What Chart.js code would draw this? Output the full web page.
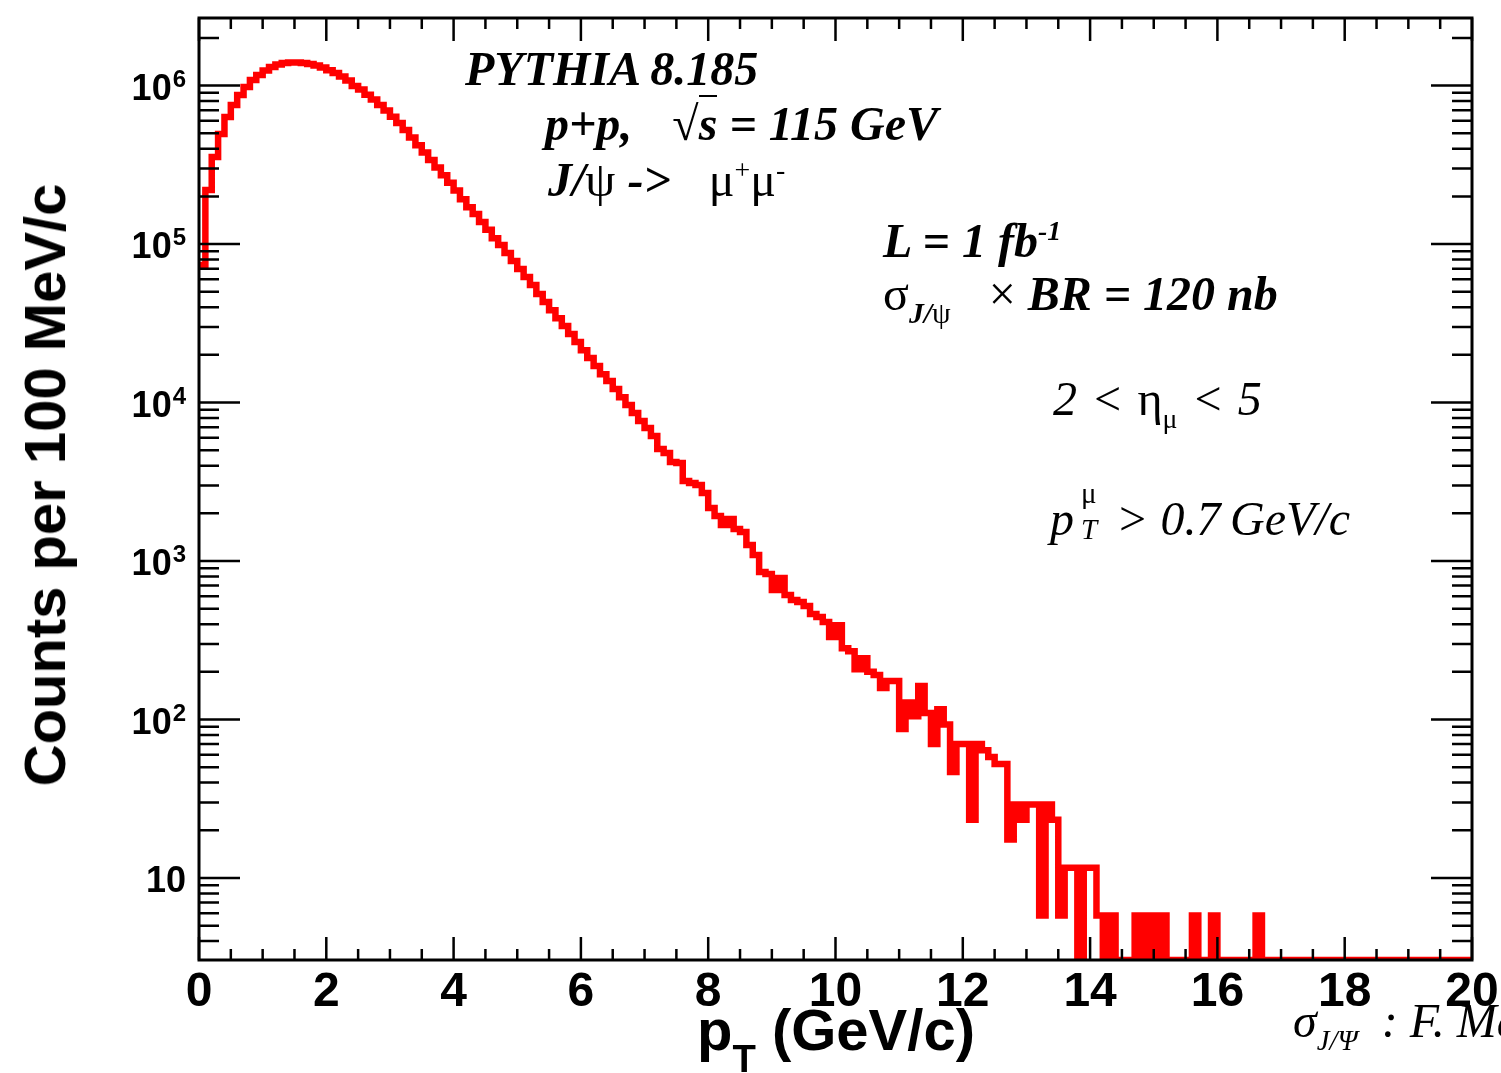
<!DOCTYPE html>
<html lang="en">
<head>
  <meta charset="UTF-8">
  <title>J/psi pT spectrum</title>
  <script src="https://cdn.jsdelivr.net/npm/chart.js@4.4.1/dist/chart.umd.min.js"></script>
  <style>
    body { margin: 0; background: #fff; }
    #wrap { position: relative; width: 1501px; height: 1073px; overflow: hidden; background: #fff; }
    canvas { position: absolute; left: 0; top: 0; }
    .t {
      position: absolute;
      line-height: 1;
      white-space: nowrap;
      font-family: "Liberation Serif", "Times New Roman", serif;
      font-size: 48px;
      color: #000;
    }
    .bi { font-weight: bold; font-style: italic; }
    .it { font-style: italic; }
    .g { font-weight: normal; font-style: normal; }
    sup, sub { font-size: 0.58em; line-height: 0; position: relative; vertical-align: baseline; }
    sup { top: -0.6em; }
    sub { top: 0.45em; }
    .sans { font-family: "Liberation Sans", Arial, Helvetica, sans-serif; font-weight: bold; }
    .stack { display: inline-block; position: relative; width: 30px; height: 1em; vertical-align: baseline; }
    .stack span { position: absolute; left: 7px; font-size: 29px; line-height: 1; }
  </style>
</head>
<body>
  <div id="wrap">
    <canvas id="ptChart" width="1501" height="1073"></canvas>

    <div class="t bi" style="left:465px;top:45px">PYTHIA 8.185</div>
    <div class="t bi" style="left:545px;top:100px">p+p,<span class="g" style="margin-left:40px">√</span><span style="border-top:2px solid #000">s</span> = 115 GeV</div>
    <div class="t bi" style="left:548px;top:156px">J/<span class="g">ψ</span> -&gt;<span class="g" style="margin-left:38px">μ<sup>+</sup>μ<sup>-</sup></span></div>

    <div class="t bi" style="left:883px;top:217px">L = 1 fb<sup>-1</sup></div>
    <div class="t bi" style="left:883px;top:270px"><span class="g">σ</span><sub style="font-size:0.62em">J/<span class="g">ψ</span></sub><span class="g" style="margin-left:38px">×</span> BR = 120 nb</div>

    <div class="t it" style="left:1053px;top:375px;word-spacing:2px">2 &lt; <span class="g">η</span><sub class="g">μ</sub> &lt; 5</div>
    <div class="t it" style="left:1050px;top:487px">p<span class="stack"><span class="g" style="top:-8px">μ</span><span style="top:28px">T</span></span> &gt; 0.7&#8201;GeV/c</div>

    <div class="t it" style="left:1293px;top:997px;font-size:48px">σ<sub style="font-size:0.6em;margin-right:12px">J/Ψ</sub> : F. Maltoni</div>

    <div class="t sans" style="left:697px;top:1001px;font-size:58px">p<sub style="font-size:0.66em;top:0.58em">T</sub> (GeV/c)</div>
    <div class="t sans" style="left:45px;top:485px;font-size:58px;transform:translate(-50%,-50%) rotate(-90deg)">Counts per 100 MeV/c</div>
  </div>

  <script>
    // histogram: 200 bins of 100 MeV from 0 to 20 GeV/c
    const binWidth = 0.1;
    const counts = [
      73700, 219100, 353900, 494300, 632900, 753400, 871300, 978400, 1083000, 1165000,
      1243000, 1308000, 1357000, 1387000, 1397000, 1397000, 1387000, 1367000, 1337000, 1299000,
      1252000, 1199000, 1140000, 1075000, 993000, 944000, 877000, 816000, 753000, 696000,
      637000, 580000, 524000, 470000, 421000, 378000, 339000, 304000, 272000, 244000,
      218000, 192000, 171000, 155000, 138000, 123000, 109000, 98600, 87800, 78100,
      69600, 61900, 55100, 48400, 43100, 38300, 34100, 30400, 27100, 24100,
      21400, 19100, 17000, 15100, 13700, 12200, 10800, 9640, 8586, 7644,
      6902, 6150, 5090, 4800, 4217, 4150, 3199, 3105, 3015, 2685,
      2158, 1923, 1687, 1841, 1592, 1524, 1262, 1091, 853, 828,
      656, 782, 610, 567, 551, 520, 463, 444, 412, 332,
      394, 282, 270, 208, 244, 200, 191, 158, 175, 175,
      87.3, 128, 105, 163, 110, 70, 116, 93, 46.6, 70,
      70, 23.3, 70, 64, 58, 52.4, 52.4, 17.5, 29.1, 23.3,
      29.1, 29.1, 5.8, 29.1, 23.3, 5.8, 11.6, 11.6, 0, 11.6,
      11.6, 5.8, 0, 5.8, 0, 0, 0, 5.8, 0, 5.8,
      0, 5.8, 0, 0, 0, 0, 5.8, 0, 0, 5.8,
      0, 0, 0, 0, 0, 0, 5.8, 0, 0, 0,
      0, 0, 0, 0, 0, 0, 0, 0, 0, 0,
      0, 0, 0, 0, 0, 0, 0, 0, 0, 0,
      0, 0, 0, 0, 0, 0, 0, 0, 0, 0
    ];
    const xTickValues = [0, 2, 4, 6, 8, 10, 12, 14, 16, 18, 20];
    const xTickLabels = ['0', '2', '4', '6', '8', '10', '12', '14', '16', '18', '20'];
    const yDecades = [1, 2, 3, 4, 5, 6];   // labels 10, 10^2 ... 10^6

    const xMin = 0, xMax = 20;
    const yMin = 3.04, yMax = 2.67e6;

    // left bin edges, plus closing point at the upper edge;
    // empty bins sit on the axis floor like in ROOT (log scale drops zeros)
    const floorVal = c => (c > 0 ? c : yMin);
    const histPoints = counts.map((c, i) => ({ x: i * binWidth, y: floorVal(c) }));
    histPoints.push({ x: xMax, y: floorVal(counts[counts.length - 1]) });

    const rootFrame = {
      id: 'rootFrame',
      afterDatasetsDraw(chart) {
        const { ctx, chartArea: a, scales: { x, y } } = chart;
        ctx.save();
        ctx.strokeStyle = '#000';
        ctx.lineWidth = 2.5;
        ctx.beginPath();
        // x ticks every 0.5, major every 2 (bottom and top, pointing inwards)
        for (let v = xMin; v <= xMax + 1e-9; v += 0.5) {
          const px = x.getPixelForValue(v);
          const len = xTickValues.includes(v) ? 23 : 11;
          ctx.moveTo(px, a.bottom); ctx.lineTo(px, a.bottom - len);
          ctx.moveTo(px, a.top); ctx.lineTo(px, a.top + len);
        }
        // y ticks: decades long, 2..9 short (left and right)
        for (let d = 0; d <= 6; d++) {
          for (let m = 1; m <= 9; m++) {
            const v = m * Math.pow(10, d);
            if (v < yMin || v > yMax) continue;
            const py = y.getPixelForValue(v);
            const len = m === 1 ? 41 : 20;
            ctx.moveTo(a.left, py); ctx.lineTo(a.left + len, py);
            ctx.moveTo(a.right, py); ctx.lineTo(a.right - len, py);
          }
        }
        ctx.stroke();
        ctx.lineWidth = 3;
        ctx.strokeRect(a.left, a.top, a.right - a.left, a.bottom - a.top);

        // x tick labels
        ctx.fillStyle = '#000';
        ctx.font = 'bold 48px "Liberation Sans", Arial, sans-serif';
        ctx.textAlign = 'center';
        ctx.textBaseline = 'alphabetic';
        xTickValues.forEach((v, i) => {
          ctx.fillText(xTickLabels[i], x.getPixelForValue(v), 1006);
        });

        // y tick labels with superscript exponent
        ctx.textAlign = 'right';
        const right = 186;
        yDecades.forEach(d => {
          const py = y.getPixelForValue(Math.pow(10, d));
          if (d === 1) {
            ctx.font = 'bold 36px "Liberation Sans", Arial, sans-serif';
            ctx.fillText('10', right, py + 14);
          } else {
            ctx.font = 'bold 24px "Liberation Sans", Arial, sans-serif';
            const exp = String(d);
            const w = ctx.measureText(exp).width;
            ctx.fillText(exp, right, py + 1);
            ctx.font = 'bold 36px "Liberation Sans", Arial, sans-serif';
            ctx.fillText('10', right - w - 1, py + 14);
          }
        });
        ctx.restore();
      }
    };

    new Chart(document.getElementById('ptChart').getContext('2d'), {
      type: 'line',
      data: {
        datasets: [{
          data: histPoints,
          borderColor: '#ff0000',
          borderWidth: 6.5,
          stepped: 'before',
          pointRadius: 0,
          fill: false,
          borderJoinStyle: 'miter',
          borderCapStyle: 'butt'
        }]
      },
      options: {
        responsive: false,
        animation: false,
        layout: { padding: { left: 199, top: 18, right: 29, bottom: 113 } },
        plugins: { legend: { display: false }, tooltip: { enabled: false } },
        scales: {
          x: { type: 'linear', min: xMin, max: xMax, display: false, bounds: 'data' },
          y: { type: 'logarithmic', min: yMin, max: yMax, display: false, bounds: 'data' }
        }
      },
      plugins: [rootFrame]
    });
  </script>
</body>
</html>
